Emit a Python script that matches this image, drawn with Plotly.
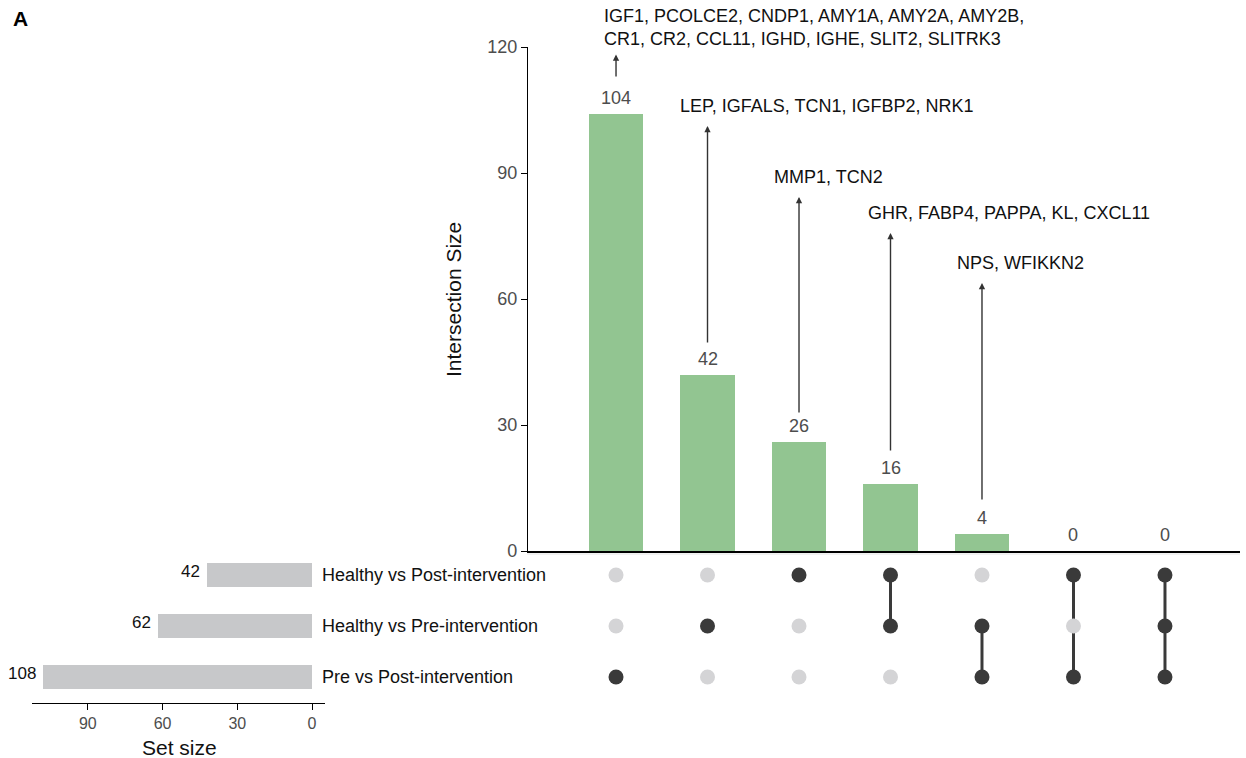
import plotly.graph_objects as go

# ---------------- data ----------------
set_names = ["Pre vs Post-intervention", "Healthy vs Pre-intervention", "Healthy vs Post-intervention"]
set_sizes = [108, 62, 42]
# membership per intersection column: [Pre vs Post, Healthy vs Pre, Healthy vs Post]
memberships = [
    [1, 0, 0],
    [0, 1, 0],
    [0, 0, 1],
    [0, 1, 1],
    [1, 1, 0],
    [1, 0, 1],
    [1, 1, 1],
]
intersection_sizes = [104, 42, 26, 16, 4, 0, 0]
gene_labels = [
    "IGF1, PCOLCE2, CNDP1, AMY1A, AMY2A, AMY2B,<br>CR1, CR2, CCL11, IGHD, IGHE, SLIT2, SLITRK3",
    "LEP, IGFALS, TCN1, IGFBP2, NRK1",
    "MMP1, TCN2",
    "GHR, FABP4, PAPPA, KL, CXCL11",
    "NPS, WFIKKN2",
]
arrow_tips = [118.2, 101.2, 84.3, 75.7, 63.8]
arrow_tails = [112.6, 49.3, 32.6, 23.6, 11.9]
y_ticks = [0, 30, 60, 90, 120]
set_ticks = [0, 30, 60, 90]

# ---------------- style ----------------
W, H = 1246, 758
FONT = "Arial, Liberation Sans, Helvetica, sans-serif"
GREEN = "#92c591"
DARK = "#3a3a3a"
LIGHT = "#d4d4d6"
GREY_BAR = "#c7c8ca"
TXT_GREY = "#4d4d4d"
FS = 18

def px_x(p):
    return min(1.0, max(0.0, p / W))

def px_y(p):
    return min(1.0, max(0.0, 1 - p / H))

cols = list(range(1, len(intersection_sizes) + 1))

fig = go.Figure()

# intersection bars
fig.add_trace(go.Bar(x=cols, y=intersection_sizes, marker_color=GREEN, marker_line_width=0,
                     width=0.6, xaxis="x", yaxis="y", showlegend=False, hoverinfo="skip"))

# matrix: connecting lines and dots
for c, mem in zip(cols, memberships):
    active = [r for r, m in enumerate(mem) if m]
    if len(active) > 1:
        fig.add_trace(go.Scatter(x=[c, c], y=[min(active), max(active)], mode="lines",
                                 line=dict(color=DARK, width=3), xaxis="x2", yaxis="y2",
                                 showlegend=False, hoverinfo="skip"))
dx, dy, dc = [], [], []
for c, mem in zip(cols, memberships):
    for r, m in enumerate(mem):
        dx.append(c)
        dy.append(r)
        dc.append(DARK if m else LIGHT)
order = sorted(range(len(dx)), key=lambda i: dc[i] == DARK)
fig.add_trace(go.Scatter(x=[dx[i] for i in order], y=[dy[i] for i in order], mode="markers",
                         marker=dict(color=[dc[i] for i in order], size=15, line_width=0),
                         xaxis="x2", yaxis="y2", showlegend=False, hoverinfo="skip"))

# set size bars
fig.add_trace(go.Bar(x=set_sizes, y=list(range(len(set_sizes))), orientation="h",
                     marker_color=GREY_BAR, marker_line_width=0, width=0.47,
                     xaxis="x3", yaxis="y3", showlegend=False, hoverinfo="skip"))

annotations = []
# count labels above bars
for c, v in zip(cols, intersection_sizes):
    annotations.append(dict(x=c, y=v, xref="x", yref="y", text=str(v), showarrow=False,
                            yanchor="bottom", yshift=4, font=dict(size=FS, color=TXT_GREY, family=FONT)))
# gene label arrows and texts
shifts = [-14, -30, -27, -25, -27]
yshifts = [4, 8, 8, 8, 8]
for i, (lab, tip, tail) in enumerate(zip(gene_labels, arrow_tips, arrow_tails)):
    c = cols[i]
    annotations.append(dict(x=c, y=tip, ax=c, ay=tail, xref="x", yref="y", axref="x", ayref="y",
                            text="", showarrow=True, arrowhead=2, arrowsize=0.9, arrowwidth=1.4,
                            arrowcolor="#333333"))
    annotations.append(dict(x=c, y=tip, xref="x", yref="y", text=lab, showarrow=False,
                            xanchor="left", yanchor="bottom", xshift=shifts[i], yshift=yshifts[i],
                            align="left", font=dict(size=FS, color="#111111", family=FONT)))
# set size value labels
for r, v in enumerate(set_sizes):
    annotations.append(dict(x=v, y=r, xref="x3", yref="y3", text=str(v), showarrow=False,
                            xanchor="right", xshift=-5, yshift=3,
                            font=dict(size=17, color="#111111", family=FONT)))
# set names
for r, name in enumerate(set_names):
    annotations.append(dict(x=px_x(320), y=r, xref="paper", yref="y2", text=name, showarrow=False,
                            xanchor="left", yanchor="middle",
                            font=dict(size=FS, color="#111111", family=FONT)))
# panel letter
annotations.append(dict(x=px_x(11), y=px_y(18), xref="paper", yref="paper", text="<b>A</b>",
                        showarrow=False, xanchor="left", yanchor="middle",
                        font=dict(size=21, color="#000", family=FONT)))
# set size title
annotations.append(dict(x=px_x(179), y=px_y(747), xref="paper", yref="paper", text="Set size",
                        showarrow=False, xanchor="center", yanchor="middle",
                        font=dict(size=21, color="#111111", family=FONT)))
# intersection size title
annotations.append(dict(x=px_x(453), y=px_y(300), xref="paper", yref="paper", text="Intersection Size",
                        showarrow=False, xanchor="center", yanchor="middle", textangle=-90,
                        font=dict(size=21, color="#111111", family=FONT)))

shapes = [dict(type="line", xref="paper", yref="paper", x0=px_x(527), x1=px_x(1240),
               y0=px_y(554), y1=px_y(554), line=dict(color="#e3e3e3", width=1.2), layer="below")]

x_range = [0.027, 7.82]
main_dom_x = [px_x(527), px_x(1240)]
mat_range = [-0.51, 2.47]
mat_dom = [px_y(703), px_y(551)]

fig.update_layout(
    width=W, height=H, margin=dict(l=0, r=0, t=0, b=0, pad=0, autoexpand=False),
    paper_bgcolor="white", plot_bgcolor="white",
    font=dict(family=FONT),
    bargap=0,
    xaxis=dict(domain=main_dom_x, range=x_range,
               showline=True, linecolor="black", linewidth=2,
               showticklabels=False, ticks="", showgrid=False, zeroline=False, anchor="y",
               automargin=False),
    yaxis=dict(domain=[px_y(551), px_y(47)], range=[0, 120], anchor="free", position=px_x(527),
               showline=True, linecolor="black", linewidth=1.3, ticks="outside", ticklen=6,
               tickcolor="black", tickvals=y_ticks, showgrid=False, zeroline=False,
               tickfont=dict(size=FS, color=TXT_GREY, family=FONT), automargin=False),
    xaxis2=dict(domain=main_dom_x, matches="x", visible=False, anchor="y2", automargin=False),
    yaxis2=dict(domain=mat_dom, range=mat_range, visible=False, anchor="x2", automargin=False),
    xaxis3=dict(domain=[px_x(32), px_x(325)], range=[112.4, -5.2], anchor="y3", showline=True,
                linecolor="black", linewidth=1.3, ticks="outside", ticklen=6, tickcolor="black",
                tickvals=set_ticks, showgrid=False, zeroline=False, automargin=False,
                tickfont=dict(size=16, color=TXT_GREY, family=FONT)),
    yaxis3=dict(domain=mat_dom, range=mat_range, visible=False, anchor="x3", automargin=False),
    annotations=annotations,
    shapes=shapes,
)

fig.write_html("out.html", config={"displayModeBar": False},
               post_script="document.body.style.margin='0';document.body.style.overflow='hidden';")
